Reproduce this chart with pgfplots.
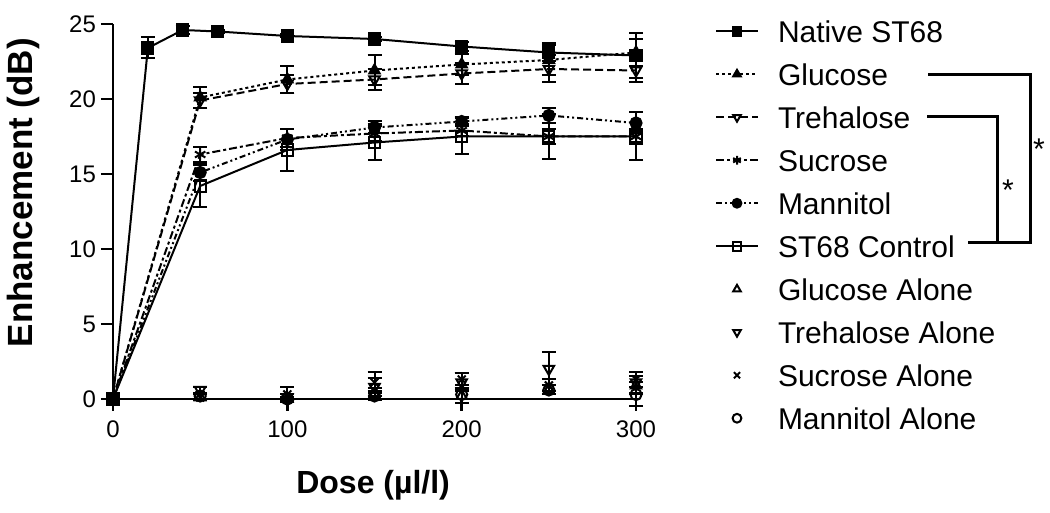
\documentclass[border=0pt]{standalone}
\usepackage{fontspec}
\setmainfont{Liberation Sans}
\usepackage{pgfplots}
\pgfplotsset{compat=1.18}
\begin{document}
\begin{tikzpicture}
\begin{axis}[
  at={(0,0)}, anchor=origin,
  scale only axis, width=263.25pt, height=187.5pt,
  xmin=0, xmax=302, ymin=0, ymax=25,
  axis lines=left,
  axis line style={-, line width=1.2pt},
  every tick/.style={black, line width=1.2pt},
  tick align=outside, major tick length=6pt,
  xtick={0,100,200,300}, ytick={0,5,10,15,20,25},
  /pgf/number format/assume math mode=true,
  tick label style={font=\fontsize{12}{14}\selectfont},
  xticklabel style={yshift=-1.5pt},
  yticklabel style={xshift=1pt},
  clip=false,
  xlabel={\textbf{Dose (µl/l)}},
  ylabel={\textbf{Enhancement (dB)}},
  xlabel style={font=\fontsize{16}{18}\selectfont, at={(axis description cs:0.494,-0.2507)}, anchor=base},
  ylabel style={font=\fontsize{17.5}{20}\selectfont, at={(axis description cs:-0.152,0.55)}, anchor=base, rotate=0},
  every axis plot/.append style={line width=1pt, black},
  error bars/error bar style={line width=1pt, solid},
  error bars/error mark options={rotate=90, line width=1pt, mark size=3.5pt, solid},
  legend style={draw=none, fill=none, at={(axis description cs:1.1434,1.01)}, anchor=north west,
    font=\fontsize{15}{18}\selectfont, inner sep=0pt, outer sep=0pt,
    row sep=10.5pt, column sep=9.5pt,
    nodes={inner sep=0pt, text height=11pt, text depth=0pt}},
  legend cell align=left,
  legend image code/.code={\draw[mark repeat=2, mark phase=2, mark size=2.2pt] plot coordinates {(0pt,0pt)(10.5pt,0pt)(21pt,0pt)};},
]
% Native ST68
\addplot[solid, mark=square*, mark size=2.8pt, mark options={solid},
  error bars/.cd, y dir=both, y explicit] coordinates {
 (0,0) +- (0,0) (20,23.4) +- (0,0.7) (40,24.6) +- (0,0.25) (60,24.5) +- (0,0.1)
 (100,24.2) +- (0,0.1) (150,24.0) +- (0,0.15) (200,23.5) +- (0,0.3) (250,23.1) +- (0,0.6) (300,22.9) +- (0,1.5)};
\addlegendentry{Native ST68}
% Glucose
\addplot[dash pattern=on 1.5pt off 1.5pt, mark=triangle*, mark size=3pt, mark options={solid},
  error bars/.cd, y dir=both, y explicit] coordinates {
 (0,0) +- (0,0) (50,20.1) +- (0,0.7) (100,21.3) +- (0,0.9) (150,21.9) +- (0,1.0)
 (200,22.3) +- (0,0.7) (250,22.6) +- (0,1.0) (300,23.1) +- (0,0.9)};
\addlegendentry{Glucose}
% Trehalose
\addplot[dash pattern=on 4pt off 2pt, mark=triangle, mark size=3pt, mark options={solid, rotate=180, fill=white},
  error bars/.cd, y dir=both, y explicit] coordinates {
 (0,0) +- (0,0) (50,19.9) +- (0,0.5) (100,21.0) +- (0,0.6) (150,21.3) +- (0,0.7)
 (200,21.7) +- (0,0.7) (250,22.0) +- (0,0.9) (300,21.9) +- (0,0.8)};
\addlegendentry{Trehalose}
% Sucrose
\addplot[dash pattern=on 4pt off 1.5pt on 1.5pt off 1.5pt, mark=asterisk, mark size=3pt, mark options={solid},
  error bars/.cd, y dir=both, y explicit] coordinates {
 (0,0) +- (0,0) (50,16.3) +- (0,0.5) (100,17.4) +- (0,0.6) (150,17.7) +- (0,0.5)
 (200,17.9) +- (0,0.4) (250,17.5) +- (0,0.5) (300,17.5) +- (0,0.5)};
\addlegendentry{Sucrose}
% Mannitol
\addplot[dash pattern=on 3pt off 1.5pt on 1pt off 1.5pt on 1pt off 1.5pt, mark=*, mark size=2.8pt, mark options={solid},
  error bars/.cd, y dir=both, y explicit] coordinates {
 (0,0) +- (0,0) (50,15.1) +- (0,0.6) (100,17.3) +- (0,0.7) (150,18.1) +- (0,0.4)
 (200,18.5) +- (0,0.3) (250,18.9) +- (0,0.5) (300,18.4) +- (0,0.7)};
\addlegendentry{Mannitol}
% ST68 Control
\addplot[solid, mark=square, mark size=2.8pt, mark options={solid, fill=white},
  error bars/.cd, y dir=both, y explicit] coordinates {
 (0,0) +- (0,0) (50,14.2) +- (0,1.4) (100,16.6) +- (0,1.4) (150,17.1) +- (0,1.2)
 (200,17.5) +- (0,1.2) (250,17.5) +- (0,1.5) (300,17.5) +- (0,1.6)};
\addlegendentry{ST68 Control}
% Alone series
\addplot[only marks, mark=triangle, mark size=3pt, mark options={solid, fill=white},
  error bars/.cd, y dir=both, y explicit] coordinates {
 (50,0.1) +- (0,0.2) (100,0.0) +- (0,0.1) (150,0.3) +- (0,0.4)
 (200,0.2) +- (0,0.5) (250,0.6) +- (0,0.3) (300,0.9) +- (0,0.6)};
\addlegendentry{Glucose Alone}
\addplot[only marks, mark=triangle, mark size=3pt, mark options={solid, rotate=180, fill=white},
  error bars/.cd, y dir=both, y explicit] coordinates {
 (50,0.6) +- (0,0.2) (100,0.1) +- (0,0.2) (150,0.8) +- (0,0.6)
 (200,1.1) +- (0,0.6) (250,2.0) +- (0,1.1) (300,1.1) +- (0,0.7)};
\addlegendentry{Trehalose Alone}
\addplot[only marks, mark=x, mark size=2.8pt, mark options={solid},
  error bars/.cd, y dir=both, y explicit] coordinates {
 (50,0.1) +- (0,0.2) (100,0.3) +- (0,0.5) (150,1.1) +- (0,0.7)
 (200,1.3) +- (0,0.4) (250,0.9) +- (0,0.4) (300,1.3) +- (0,0.5)};
\addlegendentry{Sucrose Alone}
\addplot[only marks, mark=o, mark size=2.8pt, mark options={solid, fill=white},
  error bars/.cd, y dir=both, y explicit] coordinates {
 (50,0.2) +- (0,0.2) (100,0.0) +- (0,0.1) (150,0.2) +- (0,0.3)
 (200,0.3) +- (0,0.3) (250,0.6) +- (0,0.3) (300,0.3) +- (0,0.8)};
\addlegendentry{Mannitol Alone}
\end{axis}
% significance brackets
\draw[line width=1.5pt] (407.5pt,162pt) -- (458.5pt,162pt) -- (458.5pt,78pt) -- (427.5pt,78pt);
\draw[line width=1.5pt] (407pt,141pt) -- (442pt,141pt) -- (442pt,78pt);
\node[font=\fontsize{15}{18}\selectfont, anchor=base, inner sep=0pt] at (463pt,119.7pt) {*};
\node[font=\fontsize{15}{18}\selectfont, anchor=base, inner sep=0pt] at (447.5pt,99.2pt) {*};
\pgfresetboundingbox
\path[use as bounding box] (-56.5pt,-57pt) rectangle (468.5pt,199.5pt);
\end{tikzpicture}
\end{document}
